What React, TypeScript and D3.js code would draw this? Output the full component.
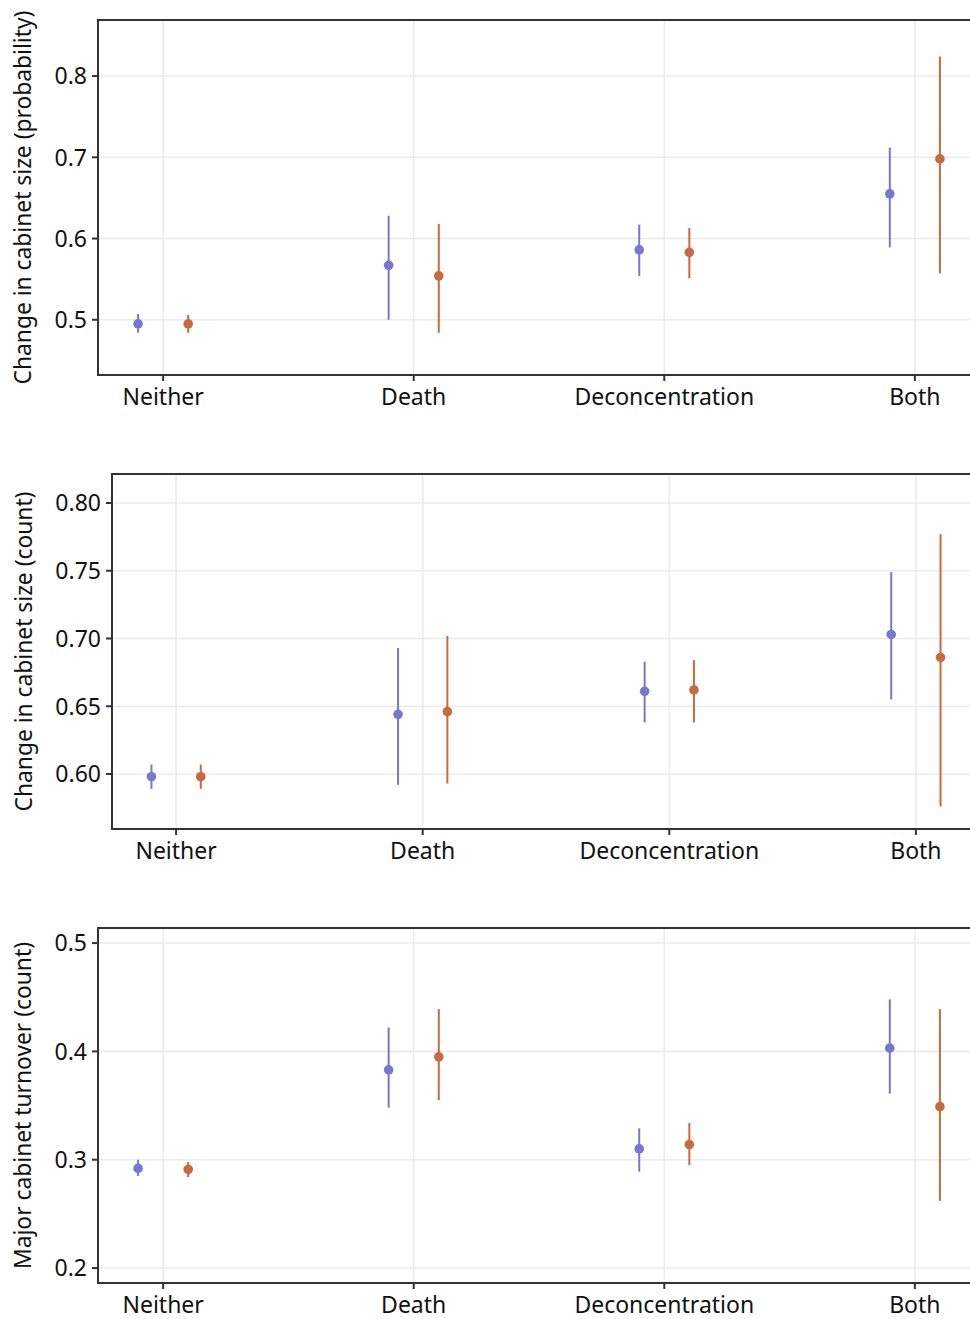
import * as d3 from "d3";

const categories = ["Neither", "Death", "Deconcentration", "Both"];

// panel 1: change in cabinet size (probability)
const probBlue = [0.495, 0.567, 0.586, 0.655];
const probBlueLo = [0.484, 0.5, 0.554, 0.589];
const probBlueHi = [0.507, 0.628, 0.617, 0.712];
const probOrange = [0.495, 0.554, 0.583, 0.698];
const probOrangeLo = [0.484, 0.484, 0.551, 0.557];
const probOrangeHi = [0.506, 0.618, 0.613, 0.824];
const probTicks = [0.5, 0.6, 0.7, 0.8];

// panel 2: change in cabinet size (count)
const countBlue = [0.598, 0.644, 0.661, 0.703];
const countBlueLo = [0.589, 0.592, 0.638, 0.655];
const countBlueHi = [0.607, 0.693, 0.683, 0.749];
const countOrange = [0.598, 0.646, 0.662, 0.686];
const countOrangeLo = [0.589, 0.593, 0.638, 0.576];
const countOrangeHi = [0.607, 0.702, 0.684, 0.777];
const countTicks = [0.6, 0.65, 0.7, 0.75, 0.8];

// panel 3: major cabinet turnover (count)
const turnBlue = [0.292, 0.383, 0.31, 0.403];
const turnBlueLo = [0.285, 0.348, 0.289, 0.361];
const turnBlueHi = [0.3, 0.422, 0.329, 0.448];
const turnOrange = [0.291, 0.395, 0.314, 0.349];
const turnOrangeLo = [0.284, 0.355, 0.295, 0.262];
const turnOrangeHi = [0.298, 0.439, 0.334, 0.439];
const turnTicks = [0.2, 0.3, 0.4, 0.5];

const blue = "#7777d0";
const orange = "#c96a3e";
const font = "'Noto Sans', sans-serif";
const plotRight = 980; // panel runs a little past the page edge

type Series = { est: number[]; lo: number[]; hi: number[]; color: string; shift: number };

function Panel({
  top,
  bottom,
  left,
  domain,
  ticks,
  fmt,
  title,
  titleX,
  series,
}: {
  top: number;
  bottom: number;
  left: number;
  domain: [number, number];
  ticks: number[];
  fmt: string;
  title: string;
  titleX: number;
  series: Series[];
}) {
  const x = d3.scalePoint<string>().domain(categories).range([left, plotRight]).padding(0.26);
  const y = d3.scaleLinear().domain(domain).range([bottom, top]);
  const step = x.step();
  const f = d3.format(fmt);

  return (
    <g>
      {ticks.map((t) => (
        <line key={"gy" + t} x1={left} x2={970} y1={y(t)} y2={y(t)} stroke="#ebebeb" strokeWidth={1.6} />
      ))}
      {categories.map((c) => (
        <line key={"gx" + c} x1={x(c)} x2={x(c)} y1={top} y2={bottom} stroke="#ebebeb" strokeWidth={1.6} />
      ))}
      {series.map((s, si) =>
        categories.map((c, i) => {
          const cx = (x(c) as number) + s.shift * step;
          return (
            <g key={si + c}>
              <line x1={cx} x2={cx} y1={y(s.lo[i])} y2={y(s.hi[i])} stroke={s.color} strokeWidth={2} />
              <circle cx={cx} cy={y(s.est[i])} r={4.8} fill={s.color} />
            </g>
          );
        })
      )}
      <path d={`M970,${top}H${left}V${bottom}H970`} fill="none" stroke="#333333" strokeWidth={2} />
      {ticks.map((t) => (
        <g key={"ty" + t}>
          <line x1={left - 6} x2={left} y1={y(t)} y2={y(t)} stroke="#333333" strokeWidth={2} />
          <text x={left - 11} y={y(t)} dy="0.36em" textAnchor="end" fontSize={23} fill="#111">
            {f(t)}
          </text>
        </g>
      ))}
      {categories.map((c) => (
        <g key={"tx" + c}>
          <line x1={x(c)} x2={x(c)} y1={bottom} y2={bottom + 6} stroke="#333333" strokeWidth={2} />
          <text x={x(c)} y={bottom + 30} textAnchor="middle" fontSize={23} fill="#111">
            {c}
          </text>
        </g>
      ))}
      <text
        transform={`translate(${titleX},${(top + bottom) / 2}) rotate(-90)`}
        textAnchor="middle"
        fontSize={22.8}
        fill="#111"
      >
        {title}
      </text>
    </g>
  );
}

export default function App() {
  return (
    <svg
      width={970}
      height={1319}
      style={{ position: "absolute", left: 0, top: 0, fontFamily: font }}
    >
      <rect width={970} height={1319} fill="#fff" />
      <Panel
        top={20}
        bottom={375}
        left={98}
        domain={[0.432, 0.869]}
        ticks={probTicks}
        fmt=".1f"
        title="Change in cabinet size (probability)"
        titleX={31}
        series={[
          { est: probBlue, lo: probBlueLo, hi: probBlueHi, color: blue, shift: -0.1 },
          { est: probOrange, lo: probOrangeLo, hi: probOrangeHi, color: orange, shift: 0.1 },
        ]}
      />
      <Panel
        top={474}
        bottom={829}
        left={112}
        domain={[0.5594, 0.8214]}
        ticks={countTicks}
        fmt=".2f"
        title="Change in cabinet size (count)"
        titleX={32}
        series={[
          { est: countBlue, lo: countBlueLo, hi: countBlueHi, color: blue, shift: -0.1 },
          { est: countOrange, lo: countOrangeLo, hi: countOrangeHi, color: orange, shift: 0.1 },
        ]}
      />
      <Panel
        top={928}
        bottom={1283}
        left={98}
        domain={[0.1862, 0.5139]}
        ticks={turnTicks}
        fmt=".1f"
        title="Major cabinet turnover (count)"
        titleX={31}
        series={[
          { est: turnBlue, lo: turnBlueLo, hi: turnBlueHi, color: blue, shift: -0.1 },
          { est: turnOrange, lo: turnOrangeLo, hi: turnOrangeHi, color: orange, shift: 0.1 },
        ]}
      />
    </svg>
  );
}
